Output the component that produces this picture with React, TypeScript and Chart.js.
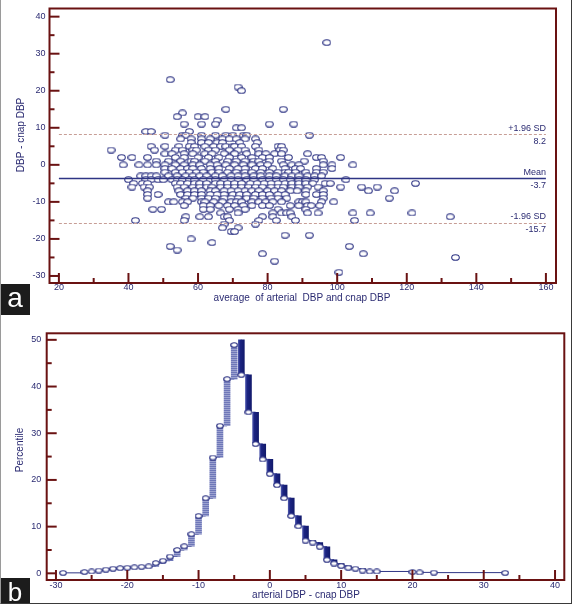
import React, { useEffect, useRef } from 'react';
import { Chart, registerables } from 'chart.js';

Chart.register(...registerables);

const FONT = '"Liberation Sans", Arial, sans-serif';
const TEXT_COLOR = '#2b2b72';
const FRAME_COLOR = '#6a1212';
const NAVY = '#2e3484';

// ---------- Panel a : Bland-Altman ----------
const avgTicks = [20, 40, 60, 80, 100, 120, 140, 160];
const diffTicks = [-30, -20, -10, 0, 10, 20, 30, 40];
const meanDiff = -3.7;
const upperLoA = 8.2;
const lowerLoA = -15.7;
const upperLabel = '+1.96 SD';
const meanLabel = 'Mean';
const lowerLabel = '-1.96 SD';
const xTitleA = 'average  of arterial  DBP and cnap DBP';
const yTitleA = 'DBP - cnap DBP';

// [average, difference]
const blandAltmanPoints: [number, number][] = [
  [97, 33], [52, 23], [71.5, 21], [72.5, 20], [68, 15], [84.5, 15], [55.5, 14],
  [54, 13], [60, 13], [62, 13], [65.5, 12],
  [56, 11], [61, 11], [65, 11], [80.5, 11], [87.5, 11],
  [71, 10], [72.5, 10],
  [45, 9], [46.5, 9], [57.5, 9],
  [50.5, 8], [55.5, 8], [56.5, 8], [61, 8], [65, 8], [68, 8], [70, 8], [73, 8], [74, 8], [92, 8],
  [55, 7], [58, 7], [61, 7], [63.5, 7], [67, 7], [69, 7], [71, 7], [73.5, 7], [76.5, 7],
  [58, 6], [61, 6], [63, 6], [65.5, 6], [67, 6], [72, 6], [77, 6],
  [46.5, 5], [50.5, 5], [54.5, 5], [57.5, 5], [59, 5], [62, 5], [64.5, 5], [66.5, 5], [68, 5], [70, 5], [70.5, 5], [72.5, 5], [76.5, 5], [83, 5], [84, 5],
  [35, 4], [47.5, 4], [53.5, 4], [55.5, 4], [58.5, 4], [59.5, 4], [63, 4], [65, 4], [69, 4], [71.5, 4], [73.5, 4], [77.5, 4], [83.5, 4], [84.5, 4],
  [50.5, 3], [52.5, 3], [56, 3], [58.5, 3], [62, 3], [64, 3], [67.5, 3], [70.5, 3], [74, 3], [77.5, 3], [79.5, 3], [82, 3], [84, 3], [91.5, 3],
  [38, 2], [41, 2], [45.5, 2], [53.5, 2], [56, 2], [60, 2], [63, 2], [66, 2], [69, 2], [72.5, 2], [75.5, 2], [78.5, 2], [80.5, 2], [86, 2], [94, 2], [95.5, 2], [101, 2],
  [48, 1], [51.5, 1], [55, 1], [58, 1], [59, 1], [62, 1], [65, 1], [68.5, 1], [71, 1], [73.5, 1], [76, 1], [77.5, 1], [80.5, 1], [84, 1], [90.5, 1], [96, 1],
  [38.5, 0], [43, 0], [45.5, 0], [48, 0], [50.5, 0], [53.5, 0], [56, 0], [58.5, 0], [60.5, 0], [63.5, 0], [65.5, 0], [68, 0], [70.5, 0], [73, 0], [75.5, 0], [78, 0], [80, 0], [84.5, 0], [87, 0], [89, 0], [96, 0], [98.5, 0], [104.5, 0],
  [50.5, -1], [52.5, -1], [55, -1], [57, -1], [58.5, -1], [61, -1], [63.5, -1], [66, -1], [69, -1], [71.5, -1], [73.5, -1], [76.5, -1], [78.5, -1], [81.5, -1], [85, -1], [88, -1], [89.5, -1], [94, -1], [98.5, -1],
  [50.5, -2], [53.5, -2], [55.5, -2], [57.5, -2], [59.5, -2], [61.5, -2], [64, -2], [66, -2], [68.5, -2], [71, -2], [73.5, -2], [75.5, -2], [78, -2], [80.5, -2], [83, -2], [85, -2], [86, -2], [88, -2], [91, -2], [94, -2], [96, -2],
  [43.5, -3], [45, -3], [46.5, -3], [48, -3], [51.5, -3], [54, -3], [56.5, -3], [58.5, -3], [60.5, -3], [62.5, -3], [65, -3], [67, -3], [69.5, -3], [71.5, -3], [73.5, -3], [76, -3], [78, -3], [80.5, -3], [82.5, -3], [85, -3], [87, -3], [89, -3], [91.5, -3], [93.5, -3], [95.5, -3],
  [40, -4], [45, -4], [46.5, -4], [48.5, -4], [50, -4], [52.5, -4], [54, -4], [55.5, -4], [57.5, -4], [59, -4], [61.5, -4], [63.5, -4], [65, -4], [67.5, -4], [69.5, -4], [71.5, -4], [74, -4], [76, -4], [78.5, -4], [80.5, -4], [82.5, -4], [84.5, -4], [86.5, -4], [89, -4], [91, -4], [93.5, -4], [102.5, -4],
  [41.5, -5], [44, -5], [45.5, -5], [53.5, -5], [55, -5], [57, -5], [59, -5], [60.5, -5], [62.5, -5], [65, -5], [66.5, -5], [68.5, -5], [70.5, -5], [72.5, -5], [75, -5], [77, -5], [79, -5], [81, -5], [83, -5], [85, -5], [87, -5], [89, -5], [91, -5], [93, -5], [96.5, -5], [98, -5], [122.5, -5],
  [41, -6], [44.5, -6], [46, -6], [54, -6], [56, -6], [58.5, -6], [60.5, -6], [62.5, -6], [64, -6], [66.5, -6], [68.5, -6], [70.5, -6], [72.5, -6], [74.5, -6], [76.5, -6], [78.5, -6], [81, -6], [83, -6], [84.5, -6], [87, -6], [89, -6], [91.5, -6], [94.5, -6], [101, -6], [107, -6], [111.5, -6],
  [45.5, -7], [54.5, -7], [57, -7], [59, -7], [61, -7], [63.5, -7], [65, -7], [67.5, -7], [69.5, -7], [71.5, -7], [73.5, -7], [75.5, -7], [77.5, -7], [80, -7], [82, -7], [84, -7], [86.5, -7], [88.5, -7], [91, -7], [96, -7], [109, -7], [116.5, -7],
  [45.5, -8], [48.5, -8], [55, -8], [57, -8], [59, -8], [61, -8], [63.5, -8], [65.5, -8], [67.5, -8], [70, -8], [72, -8], [74, -8], [76.5, -8], [78.5, -8], [80.5, -8], [83, -8], [85, -8], [91, -8], [94, -8], [96, -8],
  [45.5, -9], [56.5, -9], [58.5, -9], [61, -9], [63, -9], [65, -9], [67.5, -9], [69.5, -9], [71.5, -9], [74, -9], [76, -9], [78.5, -9], [81, -9], [83, -9], [85.5, -9], [96, -9], [115, -9],
  [51.5, -10], [53, -10], [55.5, -10], [57, -10], [61, -10], [62, -10], [64.5, -10], [67, -10], [69.5, -10], [71, -10], [72.5, -10], [75.5, -10], [77.5, -10], [79.5, -10], [81.5, -10], [84, -10], [89, -10], [90, -10], [91, -10], [95.5, -10], [99, -10],
  [56, -11], [61.5, -11], [63.5, -11], [66, -11], [68.5, -11], [70.5, -11], [73, -11], [75.5, -11], [78.5, -11], [80.5, -11], [86.5, -11], [89, -11], [91.5, -11], [92.5, -11], [95, -11],
  [47, -12], [49.5, -12], [61.5, -12], [63.5, -12], [69, -12], [71.5, -12], [73.5, -12], [83, -12], [91, -12],
  [66.5, -13], [71.5, -13], [81.5, -13], [84, -13], [85.5, -13], [86.5, -13], [91.5, -13], [94.5, -13], [104.5, -13], [109.5, -13], [121.5, -13],
  [56.5, -14], [60.5, -14], [63, -14], [67.5, -14], [68.5, -14], [78.5, -14], [81.5, -14], [87, -14], [132.5, -14],
  [42, -15], [56, -15], [69, -15], [77.5, -15], [82.5, -15], [88, -15], [105, -15],
  [67.5, -16], [76.5, -16], [67, -17], [71.5, -17], [69.5, -18], [70.5, -18],
  [85, -19], [92, -19], [58, -20], [64, -21], [52, -22], [103.5, -22], [54, -23],
  [78.5, -24], [107.5, -24], [134, -25], [82, -26], [100.5, -29],
];

// ---------- Panel b : mountain plot ----------
const mountainTicksX = [-30, -20, -10, 0, 10, 20, 30, 40];
const mountainTicksY = [0, 10, 20, 30, 40, 50];
const xTitleB = 'arterial DBP - cnap DBP';
const yTitleB = 'Percentile';
const leftX = [-29, -26, -25, -24, -23, -22, -21, -20, -19, -18, -17, -16, -15, -14, -13, -12, -11, -10, -9, -8, -7, -6, -5];
const leftPct = [0.1, 0.3, 0.4, 0.6, 0.8, 1.0, 1.1, 1.2, 1.3, 1.4, 1.5, 2.2, 2.7, 3.6, 5.0, 5.8, 8.4, 12.3, 16.1, 24.8, 31.6, 41.6, 48.9];
const peakPct = 50;
const rightX = [-4, -3, -2, -1, 0, 1, 2, 3, 4, 5, 6, 7, 8, 9, 10, 11, 12, 13, 14, 15, 20, 21, 23, 33];
const rightPct = [42.5, 34.5, 27.7, 24.4, 21.3, 18.9, 16.1, 12.3, 10.1, 7.0, 6.6, 5.7, 2.9, 2.1, 1.6, 1.2, 1.0, 0.6, 0.4, 0.4, 0.3, 0.2, 0.15, 0.1];

function midpoints(arr: number[]) {
  const out: number[] = [];
  for (let i = 0; i < arr.length - 1; i++) out.push((arr[i] + arr[i + 1]) / 2);
  return out;
}

function makeEllipse(w: number, h: number) {
  const c = document.createElement('canvas');
  c.width = w;
  c.height = h;
  const g = c.getContext('2d')!;
  g.beginPath();
  g.ellipse(w / 2, h / 2, w / 2 - 0.7, h / 2 - 0.7, 0, 0, Math.PI * 2);
  g.fillStyle = '#ffffff';
  g.fill();
  g.lineWidth = 1.1;
  g.strokeStyle = NAVY;
  g.stroke();
  return c;
}

const frameTicksPlugin = {
  id: 'frameTicks',
  afterDatasetsDraw(chart: any, _args: any, opts: any) {
    const { ctx, chartArea: a, scales } = chart;
    const x = scales.x;
    const y = scales.y;
    ctx.save();
    ctx.strokeStyle = FRAME_COLOR;
    ctx.lineWidth = 2;
    ctx.strokeRect(a.left, a.top, a.right - a.left, a.bottom - a.top);
    const tx = (v: number, len: number) => {
      const p = x.getPixelForValue(v);
      ctx.beginPath();
      ctx.moveTo(p, a.bottom);
      ctx.lineTo(p, a.bottom - len);
      ctx.stroke();
    };
    const ty = (v: number, len: number) => {
      const p = y.getPixelForValue(v);
      ctx.beginPath();
      ctx.moveTo(a.left, p);
      ctx.lineTo(a.left + len, p);
      ctx.stroke();
    };
    opts.xMajor.forEach((v: number) => tx(v, 10));
    midpoints(opts.xMajor).forEach((v: number) => tx(v, 5));
    opts.yMajor.forEach((v: number) => ty(v, 10));
    midpoints(opts.yMajor).forEach((v: number) => ty(v, 5));
    ctx.fillStyle = TEXT_COLOR;
    ctx.font = `10px ${FONT}`;
    ctx.textAlign = 'center';
    ctx.textBaseline = 'middle';
    ctx.fillText(opts.xTitle, opts.xTitlePos[0], opts.xTitlePos[1]);
    ctx.save();
    ctx.translate(opts.yTitlePos[0], opts.yTitlePos[1]);
    ctx.rotate(-Math.PI / 2);
    ctx.fillText(opts.yTitle, 0, 0);
    ctx.restore();
    ctx.restore();
  },
};

const refLinesPlugin = {
  id: 'refLines',
  afterDatasetsDraw(chart: any) {
    const { ctx, scales } = chart;
    const x = scales.x;
    const y = scales.y;
    const x0 = x.getPixelForValue(avgTicks[0]);
    const x1 = x.getPixelForValue(avgTicks[avgTicks.length - 1]);
    ctx.save();
    ctx.strokeStyle = '#c79e96';
    ctx.lineWidth = 1;
    ctx.setLineDash([3, 2]);
    [upperLoA, lowerLoA].forEach((v) => {
      const p = Math.round(y.getPixelForValue(v)) + 0.5;
      ctx.beginPath();
      ctx.moveTo(x0, p);
      ctx.lineTo(x1, p);
      ctx.stroke();
    });
    ctx.setLineDash([]);
    ctx.strokeStyle = NAVY;
    ctx.lineWidth = 1.5;
    const pm = y.getPixelForValue(meanDiff);
    ctx.beginPath();
    ctx.moveTo(x0, pm);
    ctx.lineTo(x1, pm);
    ctx.stroke();
    ctx.fillStyle = TEXT_COLOR;
    ctx.font = `9px ${FONT}`;
    ctx.textAlign = 'right';
    ctx.textBaseline = 'alphabetic';
    const lab = (v: number, top: string, bottom: string) => {
      const p = y.getPixelForValue(v);
      ctx.fillText(top, x1, p - 3.5);
      ctx.fillText(bottom, x1, p + 9.5);
    };
    lab(upperLoA, upperLabel, upperLoA.toFixed(1));
    lab(meanDiff, meanLabel, meanDiff.toFixed(1));
    lab(lowerLoA, lowerLabel, lowerLoA.toFixed(1));
    ctx.restore();
  },
};

function tickFont() {
  return { family: FONT, size: 9, lineHeight: 1 };
}

function PanelA() {
  const ref = useRef<HTMLCanvasElement>(null);
  useEffect(() => {
    const ellipse = makeEllipse(9, 7);
    const chart = new Chart(ref.current!, {
      type: 'scatter',
      data: {
        datasets: [
          {
            data: blandAltmanPoints.map(([a, d]) => ({ x: a, y: d })),
            pointStyle: ellipse as any,
            pointRadius: 3,
            pointHoverRadius: 3,
          },
        ],
      },
      options: {
        responsive: false,
        animation: false,
        events: [],
        layout: { padding: { top: 5, right: 16, left: 0, bottom: 0 } },
        plugins: {
          legend: { display: false },
          tooltip: { enabled: false },
          frameTicks: {
            xMajor: avgTicks,
            yMajor: diffTicks,
            xTitle: xTitleA,
            yTitle: yTitleA,
            xTitlePos: [302, 298],
            yTitlePos: [21, 135],
          },
        } as any,
        scales: {
          x: {
            type: 'linear',
            min: 17.3,
            max: 162.9,
            afterBuildTicks: (s: any) => {
              s.ticks = avgTicks.map((v) => ({ value: v }));
            },
            afterFit: (s: any) => {
              s.height = 21;
            },
            grid: { display: false, drawTicks: false },
            border: { display: false },
            ticks: { font: tickFont(), color: TEXT_COLOR, padding: 0, maxRotation: 0, autoSkip: false },
          },
          y: {
            type: 'linear',
            min: -31.9,
            max: 42.2,
            afterBuildTicks: (s: any) => {
              s.ticks = diffTicks.map((v) => ({ value: v }));
            },
            afterFit: (s: any) => {
              s.width = 49.5;
            },
            grid: { display: false, drawTicks: false },
            border: { display: false },
            ticks: { font: tickFont(), color: TEXT_COLOR, padding: 4, autoSkip: false },
          },
        },
      },
      plugins: [refLinesPlugin, frameTicksPlugin],
    });
    return () => chart.destroy();
  }, []);
  return <canvas ref={ref} width={572} height={304} style={{ position: 'absolute', left: 0, top: 0 }} />;
}

function PanelB() {
  const ref = useRef<HTMLCanvasElement>(null);
  useEffect(() => {
    const ellipse = makeEllipse(8, 6);
    const pc = document.createElement('canvas');
    pc.width = 2;
    pc.height = 2;
    const pg = pc.getContext('2d')!;
    pg.fillStyle = '#6e77b8';
    pg.fillRect(0, 0, 2, 1);
    pg.fillStyle = '#9ca2d0';
    pg.fillRect(0, 1, 2, 1);
    const canvas = ref.current!;
    const stripe = canvas.getContext('2d')!.createPattern(pc, 'repeat');

    const leftBars = leftX.map((x, i) => ({ x, y: [i === 0 ? 0 : leftPct[i - 1], leftPct[i]] }));
    const rightBars = rightX.map((x, i) => ({ x, y: [rightPct[i], i === 0 ? peakPct : rightPct[i - 1]] }));
    const leftPts = leftX.map((x, i) => ({ x, y: leftPct[i] }));
    const rightPts = rightX.map((x, i) => ({ x, y: rightPct[i] }));
    const stepPts = [...leftPts, { x: rightX[0], y: peakPct }, ...rightPts];

    const darkFill = (c: any) => {
      const chart = c.chart;
      const raw = c.raw;
      const solid = '#1b237d';
      if (!raw || !chart.scales || !chart.scales.x) return solid;
      const px = chart.scales.x.getPixelForValue(raw.x);
      if (!Number.isFinite(px)) return solid;
      const g = chart.ctx.createLinearGradient(px - 3, 0, px + 3, 0);
      g.addColorStop(0, '#4a54aa');
      g.addColorStop(0.3, '#1c2482');
      g.addColorStop(1, '#121a6c');
      return g;
    };

    const chart = new Chart(canvas, {
      type: 'bar',
      data: {
        datasets: [
          {
            type: 'line',
            data: stepPts,
            stepped: true,
            borderColor: NAVY,
            borderWidth: 1,
            pointRadius: 0,
            order: 3,
          } as any,
          {
            type: 'bar',
            data: leftBars,
            backgroundColor: stripe,
            borderWidth: 0,
            barThickness: 6,
            grouped: false,
            order: 2,
          } as any,
          {
            type: 'bar',
            data: rightBars,
            backgroundColor: darkFill,
            borderWidth: 0,
            barThickness: 6,
            grouped: false,
            order: 2,
          } as any,
          {
            type: 'scatter',
            data: [...leftPts, ...rightPts],
            pointStyle: ellipse as any,
            pointRadius: 3,
            pointHoverRadius: 3,
            order: 1,
          } as any,
        ],
      },
      options: {
        responsive: false,
        animation: false,
        events: [],
        layout: { padding: { top: 33.3, right: 7.7, left: 0, bottom: 0 } },
        plugins: {
          legend: { display: false },
          tooltip: { enabled: false },
          frameTicks: {
            xMajor: mountainTicksX,
            yMajor: mountainTicksY,
            xTitle: xTitleB,
            yTitle: yTitleB,
            xTitlePos: [306, 295],
            yTitlePos: [20, 150],
          },
        } as any,
        scales: {
          x: {
            type: 'linear',
            offset: false,
            min: -31.3,
            max: 41.3,
            afterBuildTicks: (s: any) => {
              s.ticks = mountainTicksX.map((v) => ({ value: v }));
            },
            afterFit: (s: any) => {
              s.height = 24;
            },
            grid: { display: false, offset: false, drawTicks: false },
            border: { display: false },
            ticks: { font: tickFont(), color: TEXT_COLOR, padding: 1.5, maxRotation: 0, autoSkip: false },
          },
          y: {
            type: 'linear',
            min: -1.43,
            max: 51.4,
            afterBuildTicks: (s: any) => {
              s.ticks = mountainTicksY.map((v) => ({ value: v }));
            },
            afterFit: (s: any) => {
              s.width = 46.7;
            },
            grid: { display: false, drawTicks: false },
            border: { display: false },
            ticks: { font: tickFont(), color: TEXT_COLOR, padding: 5.5, autoSkip: false },
          },
        },
      },
      plugins: [frameTicksPlugin],
    });
    return () => chart.destroy();
  }, []);
  return <canvas ref={ref} width={572} height={304} style={{ position: 'absolute', left: 0, top: 300 }} />;
}

export default function App() {
  return (
    <div
      style={{
        position: 'absolute',
        left: 0,
        top: 0,
        width: 572,
        height: 604,
        background: '#ffffff',
        overflow: 'hidden',
        fontFamily: FONT,
      }}
    >
      <PanelA />
      <PanelB />
      <div
        style={{
          position: 'absolute',
          left: 0,
          top: 284,
          width: 30,
          height: 31,
          background: '#1c1c1c',
          color: '#ffffff',
          fontSize: 28,
          lineHeight: '27px',
          textAlign: 'center',
        }}
      >
        a
      </div>
      <div
        style={{
          position: 'absolute',
          left: 0,
          top: 578,
          width: 30,
          height: 26,
          background: '#1c1c1c',
          color: '#ffffff',
          fontSize: 26,
          lineHeight: '28px',
          textAlign: 'center',
        }}
      >
        b
      </div>
      <div
        style={{
          position: 'absolute',
          left: 0,
          top: 0,
          width: 572,
          height: 604,
          boxSizing: 'border-box',
          borderRight: '1px solid #3a3a3a',
          borderBottom: '1px solid #3a3a3a',
          borderLeft: '1px solid #9a9a9a',
          pointerEvents: 'none',
        }}
      />
    </div>
  );
}
